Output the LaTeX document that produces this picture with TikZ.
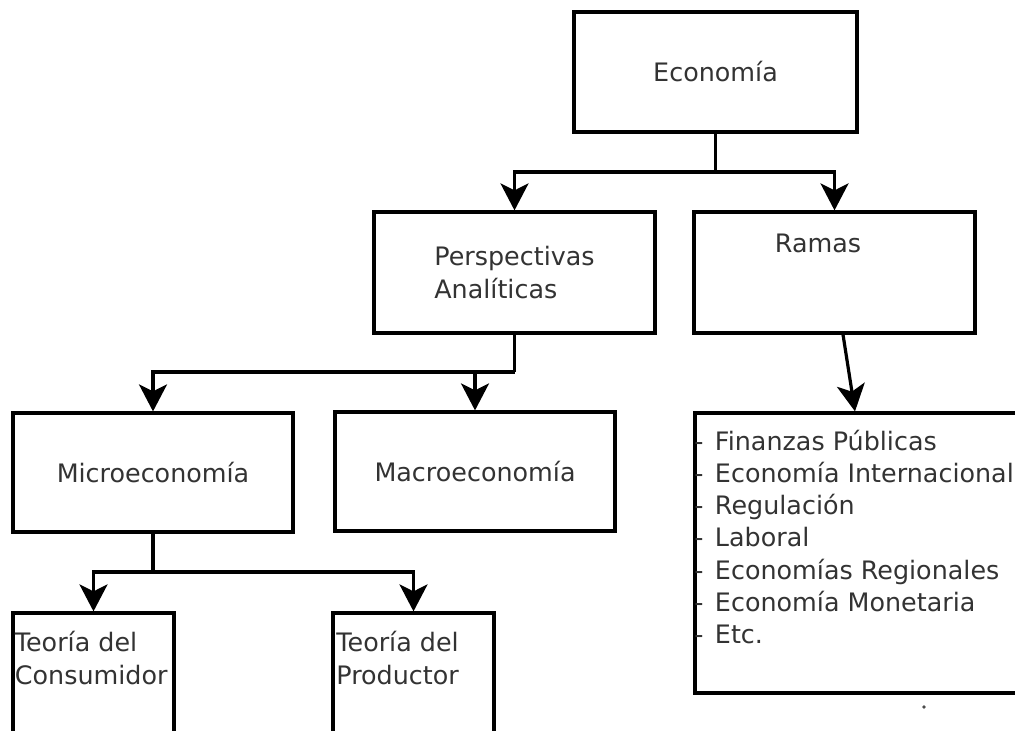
\documentclass[tikz,border=0pt]{standalone}
\usepackage{fontspec}
\setmainfont{DejaVu Sans}
\usetikzlibrary{arrows.meta}

\begin{document}
\begin{tikzpicture}[
  x=0.5pt,y=-0.5pt,
  box/.style={draw=black,line width=1.6pt,fill=white,inner sep=0pt,
    text=black!80,font=\fontsize{12.7}{16.2}\selectfont,align=left},
  txt/.style={inner sep=0pt,text=black!80,font=\fontsize{12.7}{16.2}\selectfont,align=left},
  conn/.style={draw=black,line width=1.6pt},
  arrow/.style={conn,-{Stealth[length=13.5pt,width=14pt,inset=3.5pt]}},
]
\useasboundingbox[fill=white] (0,0) rectangle (1015,731);

% boxes
\node[box,minimum width=141.5pt,minimum height=60pt] (econ) at (715.5,72) {Econom\'ia};
\node[box,minimum width=140.5pt,minimum height=60.5pt] (persp) at (514.5,272.5) {Perspectivas\\Anal\'iticas};
\node[box,minimum width=140.5pt,minimum height=60.5pt] (ramas) at (834.5,272.5) {};
\node[box,minimum width=140pt,minimum height=59.5pt] (micro) at (153,472.5) {Microeconom\'ia};
\node[box,minimum width=140pt,minimum height=59.5pt] (macro) at (475,471.5) {Macroeconom\'ia};
\node[box,minimum width=167.5pt,minimum height=140pt] (ramaslist) at (862.5,553) {};
\node[box,minimum width=80.5pt,minimum height=83.5pt] (teocons) at (93.5,696.5) {};
\node[box,minimum width=80.5pt,minimum height=83.5pt] (teoprod) at (413.5,696.5) {};

% texts that sit off centre
\node[txt,anchor=base west] (ramaslbl) at (774.5,253) {Ramas};
\foreach \item [count=\i] in {Finanzas P\'ublicas,Econom\'ia Internacional,Regulaci\'on,Laboral,Econom\'ias Regionales,Econom\'ia Monetaria,Etc.}
  \node[txt,anchor=base west] (ramaitem-\i) at (694,{450+32.3*(\i-1)}) {-\hspace{0.45em}\item};
\node[txt,anchor=base west] (teoconslbl) at (14.5,684) {Teor\'ia del\\Consumidor};
\node[txt,anchor=base west] (teoprodlbl) at (336,684) {Teor\'ia del\\Productor};

% connectors
\coordinate (econsplit) at (715.5,172);
\coordinate (perspsplit) at (514.5,372);
\coordinate (microsplit) at (153,572);
\draw[conn] (econ.south) -- (econsplit);
\draw[arrow] (econsplit) -| (persp.north);
\draw[arrow] (econsplit) -| (ramas.north);
\draw[conn] (persp.south) -- (perspsplit);
\draw[arrow] (perspsplit) -| (micro.north);
\draw[arrow] (perspsplit) -| (macro.north);
\draw[arrow] ([xshift=4.25pt]ramas.south) -- ([xshift=-3.75pt]ramaslist.north);
\draw[conn] (micro.south) -- (microsplit);
\draw[arrow] (microsplit) -| (teocons.north);
\draw[arrow] (microsplit) -| (teoprod.north);

\fill[black!70] (924,707) circle (0.9pt);
\end{tikzpicture}
\end{document}
